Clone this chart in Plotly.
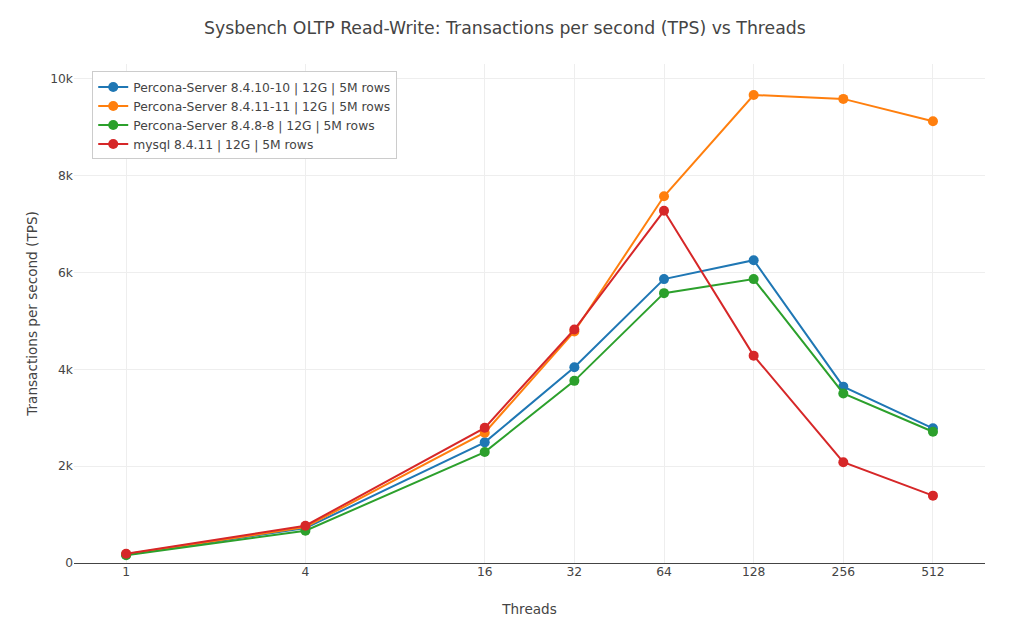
import plotly.graph_objects as go

threads = [1, 4, 16, 32, 64, 128, 256, 512]

ps_8410 = [170, 720, 2490, 4040, 5860, 6250, 3640, 2780]
ps_8411 = [180, 740, 2690, 4780, 7570, 9660, 9580, 9120]
ps_848 = [160, 665, 2290, 3760, 5570, 5860, 3500, 2710]
mysql_8411 = [190, 770, 2790, 4820, 7270, 4280, 2080, 1390]

names = ["Percona-Server 8.4.10-10 | 12G | 5M rows",
         "Percona-Server 8.4.11-11 | 12G | 5M rows",
         "Percona-Server 8.4.8-8 | 12G | 5M rows",
         "mysql 8.4.11 | 12G | 5M rows"]
colors = ["#1f77b4", "#ff7f0e", "#2ca02c", "#d62728"]

fig = go.Figure()
for name, vals, col in zip(names, [ps_8410, ps_8411, ps_848, mysql_8411], colors):
    fig.add_trace(go.Scatter(x=threads, y=vals, name=name, mode="lines+markers",
                             line=dict(color=col, width=2),
                             marker=dict(color=col, size=10)))

# page has an 8px body margin, so the figure is 8px smaller and margins shifted
fig.update_layout(
    template="none",
    width=1007, height=616,
    font=dict(family="Verdana, DejaVu Sans, sans-serif", size=12.3, color="#444"),
    title=dict(text="Sysbench OLTP Read-Write: Transactions per second (TPS) vs Threads",
               x=0.4935, y=0.9675, yanchor="middle", font=dict(size=17.3)),
    margin=dict(l=66, r=30, t=56, b=61),
    legend=dict(x=0.02, y=0.985, bgcolor="white", bordercolor="#ccc", borderwidth=1),
    xaxis=dict(title=dict(text="Threads", font=dict(size=13.6)), type="log",
               tickvals=threads, ticktext=[str(t) for t in threads],
               range=[-0.175, 2.884], gridcolor="#eee"),
    yaxis=dict(title=dict(text="Transactions per second (TPS)", font=dict(size=13.6)),
               range=[0, 10300], dtick=2000, gridcolor="#eee", zerolinecolor="#444"),
)

fig.write_html("out.html")
